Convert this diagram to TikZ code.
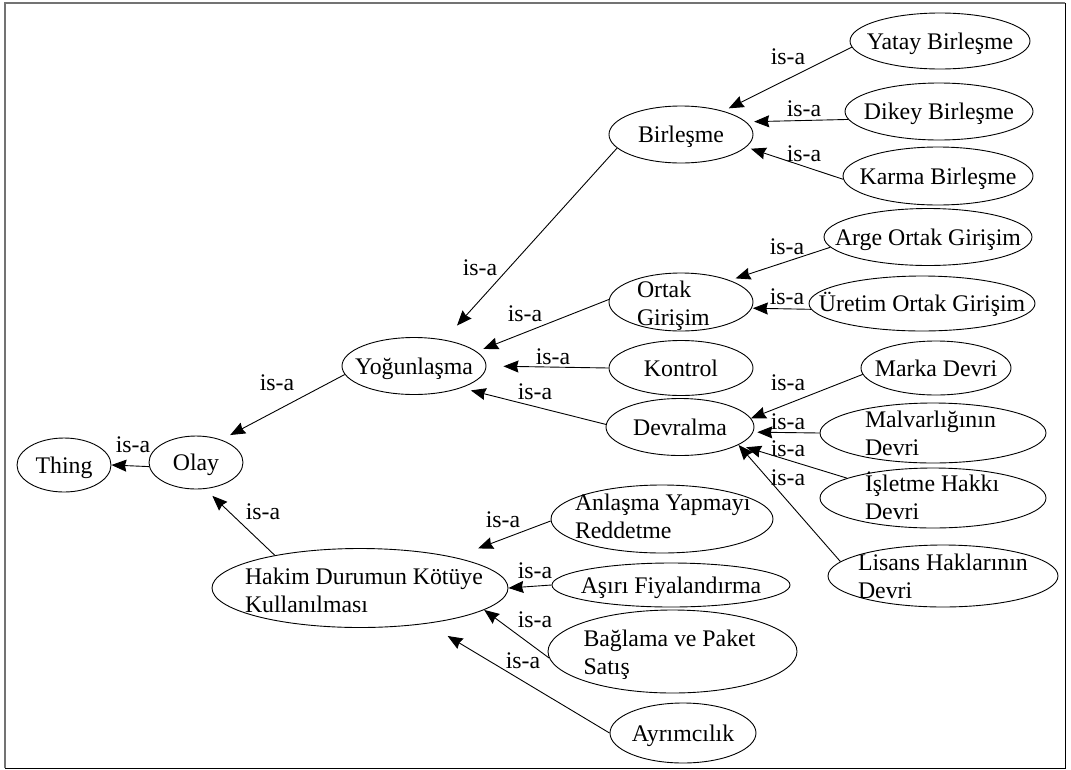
\documentclass[tikz,border=0pt]{standalone}
\usepackage{fontspec}
\setmainfont{Liberation Serif}
\usetikzlibrary{arrows.meta,shapes.geometric}

% one centred line, reference point on the node centre
\newcommand\ctext[1]{\smash{\makebox[0pt][c]{\raisebox{-8pt}{#1}}}}
% left-aligned lines: #1 = left indent from centre, #2 = drop of last baseline
\newcommand\ltext[3]{\smash{\makebox[0pt][l]{\hspace*{-#1pt}\raisebox{-#2pt}{\parbox[b]{300pt}{\raggedright #3}}}}}

\begin{document}
\begin{tikzpicture}[x=1pt,y=-1pt,
  font=\fontsize{23.8}{28}\selectfont,
  cls/.style 2 args={draw, ellipse, inner sep=0pt, line width=0.9pt,
                     minimum width=#1pt, minimum height=#2pt},
  isa/.style={-{Stealth[length=15pt,width=12pt,inset=1.5pt]}, line width=0.9pt},
  lab/.style={inner sep=0pt}]
\useasboundingbox (0,0) rectangle (1071,769);

% frame
\draw[line width=1.6pt, black!55] (4.7,768.3) -- (4.7,2.7) -- (1065.3,2.7);
\draw[line width=1.2pt] (1065.3,2.7) -- (1065.3,768.3) -- (4.7,768.3);

% classes
\node[cls={94}{54}]   (thing)   at (64,465)     {\ctext{Thing}};
\node[cls={94}{53}]   (olay)    at (196,462.5)  {\ctext{Olay}};
\node[cls={144}{57}]  (yog)     at (414,366)    {\ctext{Yoğunlaşma}};
\node[cls={144}{57}]  (birl)    at (681,134.5)  {\ctext{Birleşme}};
\node[cls={180}{56}]  (yatay)   at (940,41)     {\ctext{Yatay Birleşme}};
\node[cls={188}{57}]  (dikey)   at (939,111.5)  {\ctext{Dikey Birleşme}};
\node[cls={190}{58}]  (karma)   at (938,176)    {\ctext{Karma Birleşme}};
\node[cls={144}{58}]  (ortak)   at (681,302)    {\ltext{44}{23}{Ortak\\Girişim}};
\node[cls={208}{57}]  (arge)    at (928,237)    {\ctext{Arge Ortak Girişim}};
\node[cls={226}{55}]  (uretim)  at (922,303.5)  {\ctext{Üretim Ortak Girişim}};
\node[cls={144}{55}]  (kontrol) at (681,368)    {\ctext{Kontrol}};
\node[cls={148}{57}]  (devr)    at (680,427)    {\ctext{Devralma}};
\node[cls={150}{54}]  (marka)   at (936,368)    {\ctext{Marka Devri}};
\node[cls={226}{60}]  (malv)    at (933,433)    {\ltext{68}{22}{Malvarlığının\\Devri}};
\node[cls={226}{60}]  (islet)   at (933,498)    {\ltext{68}{21}{İşletme Hakkı\\Devri}};
\node[cls={230}{62}]  (lisans)  at (943,576)    {\ltext{85}{22}{Lisans Haklarının\\Devri}};
\node[cls={296}{79}]  (hakim)   at (360,588)    {\ltext{115}{24}{Hakim Durumun Kötüye\\Kullanılması}};
\node[cls={222}{68}]  (anl)     at (662,519)    {\ltext{87}{19}{Anlaşma Yapmayı\\Reddetme}};
\node[cls={238}{44}]  (asiri)   at (671,585)    {\ctext{Aşırı Fiyalandırma}};
\node[cls={249}{83}]  (bag)     at (672.5,651.5){\ltext{89}{23}{Bağlama ve Paket\\Satış}};
\node[cls={146}{60}]  (ayr)     at (683,733)    {\ctext{Ayrımcılık}};

% is-a links
\draw[isa] (olay.185) -- (thing.east);
\draw[isa, shorten >=10pt] (yog.187) -- (olay.42);
\draw[isa, shorten >=10pt] (hakim.159) -- (olay.-71);
\draw[isa, shorten >=19pt] (birl.192) -- (yog.41);
\draw[isa, shorten >=7pt]  (ortak.178) -- (yog.13);
\draw[isa, shorten >=17pt] (kontrol.west) -- (yog.east);
\draw[isa, shorten >=10pt] (devr.178) -- (yog.-25);
\draw[isa, shorten >=6pt]  (yatay.184) -- (birl.29);
\draw[isa, shorten >=8pt]  (dikey.185) -- (birl.11);
\draw[isa, shorten >=5pt]  (karma.182) -- (birl.-11.5);
\draw[isa, shorten >=6pt]  (arge.186) -- (ortak.24);
\draw[isa, shorten >=1pt]  (uretim.183) -- (ortak.-5);
\draw[isa] (marka.185) -- (devr.7.5);
\draw[isa, shorten >=4pt]  (malv.west) -- (devr.-4.5);
\draw[isa, shorten >=8pt]  (islet.167) -- (devr.-17);
\draw[isa] (lisans.172) -- (devr.-17);
\draw[isa, shorten >=25pt] (anl.181) -- (hakim.18);
\draw[isa] (asiri.west) -- (hakim.east);
\draw[isa] (bag.183) -- (hakim.-10);
\draw[isa, shorten >=24pt] (ayr.180) -- (hakim.-28);

% link labels
\node[lab] (l1)  at (133,445) {is-a};
\node[lab] (l2)  at (277,383) {is-a};
\node[lab] (l3)  at (263,512) {is-a};
\node[lab] (l4)  at (480,268) {is-a};
\node[lab] (l5)  at (525,314) {is-a};
\node[lab] (l6)  at (553,357) {is-a};
\node[lab] (l7)  at (535,392) {is-a};
\node[lab] (l8)  at (788,57)  {is-a};
\node[lab] (l9)  at (804,109) {is-a};
\node[lab] (l10) at (804,154) {is-a};
\node[lab] (l11) at (787,247) {is-a};
\node[lab] (l12) at (787,297) {is-a};
\node[lab] (l13) at (788,383) {is-a};
\node[lab] (l14) at (788,422) {is-a};
\node[lab] (l15) at (788,449) {is-a};
\node[lab] (l16) at (788,478) {is-a};
\node[lab] (l17) at (503,520) {is-a};
\node[lab] (l18) at (535,571) {is-a};
\node[lab] (l19) at (535,620) {is-a};
\node[lab] (l20) at (523,661) {is-a};
\end{tikzpicture}
\end{document}
